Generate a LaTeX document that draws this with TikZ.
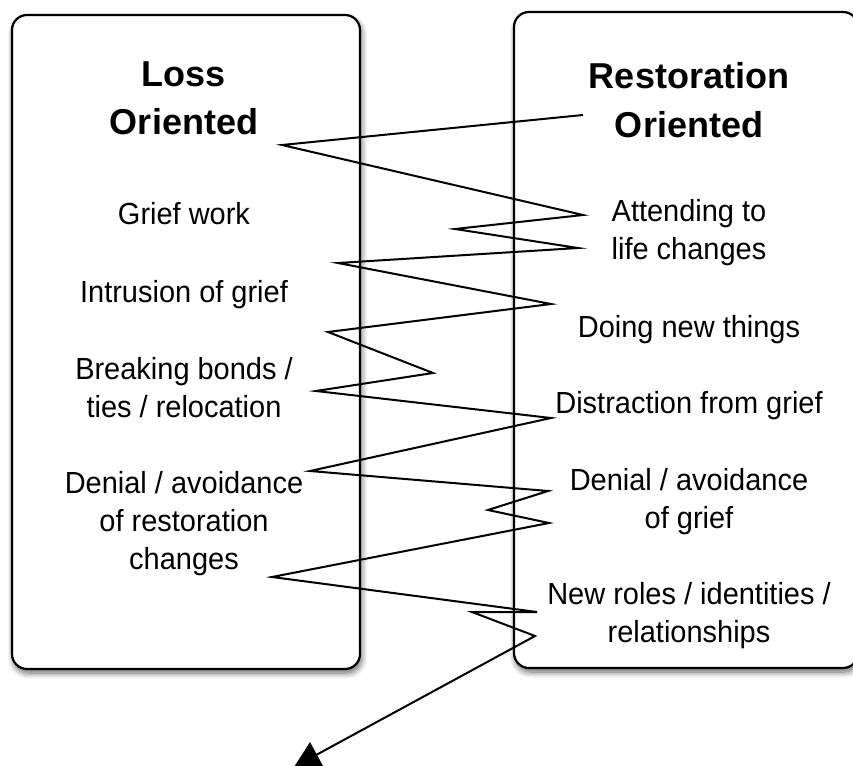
\documentclass[tikz,border=0pt]{standalone}
\usepackage{fontspec}
\setmainfont[FakeStretch=0.95]{Liberation Sans}
\newfontfamily\headfont{Liberation Sans}
\usetikzlibrary{arrows.meta,shadows.blur}

\tikzset{
  panel/.style={draw=black, line width=2.2pt, rounded corners=15pt, fill=white,
    blur shadow={shadow xshift=1.5pt, shadow yshift=-4pt, shadow blur steps=8,
      shadow blur radius=6pt, shadow opacity=60}},
  head/.style={font=\headfont\fontsize{36}{48}\selectfont\bfseries, align=center, anchor=base},
  item/.style={font=\fontsize{30.5}{38}\selectfont, align=center, anchor=base},
}

\begin{document}
\begin{tikzpicture}[x=1pt, y=-1pt]
          \useasboundingbox (0,0) rectangle (853,765);
          \clip (0,0) rectangle (853,765);

          % the two boxes
          \draw[panel] (12,15) rectangle (360,669);
          \draw[panel] (514,12) rectangle (858,668);

          % loss side (base = last line)
          \node[head] (loss) at (184,135) {Loss\\Oriented};
          \node[item] (griefwork) at (184,224) {Grief work};
          \node[item] (intrusion) at (184,302) {Intrusion of grief};
          \node[item] (breaking) at (184,417) {Breaking bonds /\\ties / relocation};
          \node[item] (denialL) at (184,569) {Denial / avoidance\\of restoration\\changes};

          % restoration side
          \node[head] (resto) at (689,137) {Restoration\\Oriented};
          \node[item] (attending) at (689,259) {Attending to\\life changes};
          \node[item] (doingnew) at (689,337) {Doing new things};
          \node[item] (distraction) at (689,413) {Distraction from grief};
          \node[item] (denialR) at (689,528) {Denial / avoidance\\of grief};
          \node[item] (newroles) at (689,642) {New roles / identities /\\relationships};

          % oscillation
          \coordinate (z1) at (583,115);
          \coordinate (z2) at (282,145);
          \coordinate (z3) at (583,215);
          \coordinate (z4) at (455,229);
          \coordinate (z5) at (578,248);
          \coordinate (z6) at (338,263);
          \coordinate (z7) at (551,304);
          \coordinate (z8) at (328,332);
          \coordinate (z9) at (433,373);
          \coordinate (z10) at (316,391);
          \coordinate (z11) at (551,418);
          \coordinate (z12) at (310,471);
          \coordinate (z13) at (548,491);
          \coordinate (z14) at (488,510);
          \coordinate (z15) at (549,523);
          \coordinate (z16) at (272,577);
          \coordinate (z17) at (537,612);
          \coordinate (z18) at (472,612);
          \coordinate (z19) at (535,636);
          \coordinate (tip) at (294,767);

          \draw[line width=2pt, -{Triangle[length=26pt,width=28pt,fill=black]}]
            (z1) -- (z2) -- (z3) -- (z4) -- (z5) -- (z6) -- (z7) -- (z8)
            -- (z9) -- (z10) -- (z11) -- (z12) -- (z13) -- (z14) -- (z15)
            -- (z16) -- (z17) -- (z18) -- (z19) -- (tip);

\end{tikzpicture}
\end{document}
